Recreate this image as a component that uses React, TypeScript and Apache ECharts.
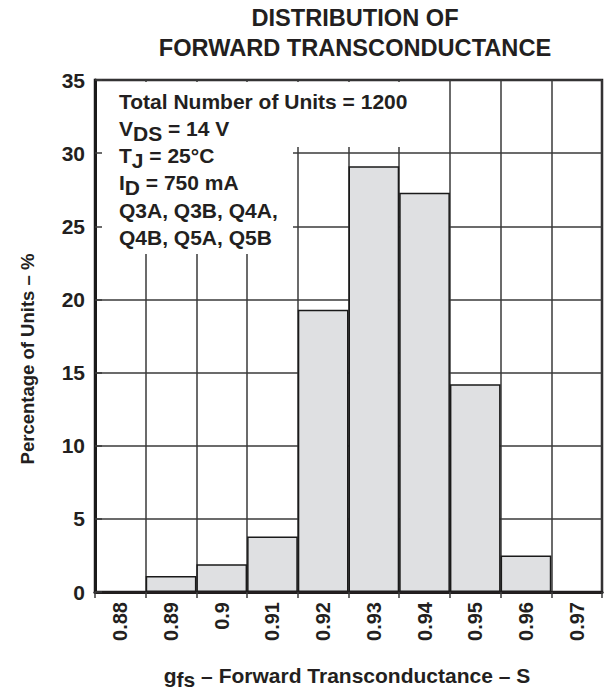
import React, { useEffect, useRef } from 'react';
import * as echarts from 'echarts';

const categories = ['0.88', '0.89', '0.9', '0.91', '0.92', '0.93', '0.94', '0.95', '0.96', '0.97'];
const percentages = [0, 1.1, 1.9, 3.8, 19.3, 29.1, 27.3, 14.2, 2.5, 0];
const yMin = 0;
const yMax = 35;
const yInterval = 5;
const titleLines = ['DISTRIBUTION OF', 'FORWARD TRANSCONDUCTANCE'];
const infoLines = [
  '{m|Total Number of Units = 1200}',
  '{m|V}{s|DS}{m| = 14 V}',
  '{m|T}{s|J}{m| = 25°C}',
  '{m|I}{s|D}{m| = 750 mA}',
  '{m|Q3A, Q3B, Q4A,}',
  '{m|Q4B, Q5A, Q5B}',
];
const yAxisName = 'Percentage of Units – %';
const xAxisName = '{m|g}{s|fs}{m| – Forward Transconductance – S}';

const FONT = '"Liberation Sans", Arial, Helvetica, sans-serif';
const INK = '#231f20';

export default function App() {
  const ref = useRef<HTMLDivElement>(null);
  useEffect(() => {
    if (!ref.current) return;
    const chart = echarts.init(ref.current, null, { renderer: 'svg' });

    const infoGraphics = infoLines.map((t, i) => ({
      type: 'text',
      z: 20,
      style: {
        text: t,
        x: 119,
        y: 108.3 + 27.3 * i - 4.8,
        align: 'left',
        verticalAlign: 'middle',
        fontFamily: FONT,
        fontSize: 21,
        fontWeight: 'bold',
        fill: INK,
        rich: {
          m: { fontFamily: FONT, fontSize: 21, fontWeight: 'bold', fill: INK, padding: [0, 0, 5, 0] },
          s: { fontFamily: FONT, fontSize: 21, fontWeight: 'bold', fill: INK, padding: [5, 0, 0, 0] },
        },
      },
    }));

    const option: any = {
      animation: false,
      backgroundColor: '#ffffff',
      grid: {
        left: 95,
        right: 2,
        top: 80,
        bottom: 97,
        show: true,
        borderColor: '#231f20',
        borderWidth: 2.5,
        backgroundColor: 'transparent',
      },
      xAxis: [
        {
          type: 'category',
          data: categories,
          position: 'bottom',
          boundaryGap: true,
          z: 1,
          axisLine: { show: true, lineStyle: { color: '#1a1a1a', width: 3 } },
          axisTick: { show: false },
          splitLine: { show: true, interval: 0, lineStyle: { color: '#3a3a3a', width: 1.5 } },
          axisLabel: {
            rotate: 90,
            margin: 10,
            interval: 0,
            padding: [7, 0, 0, 0],
            fontFamily: FONT,
            fontSize: 20,
            fontWeight: 'bold',
            color: INK,
          },
        },
        {
          type: 'category',
          data: categories,
          position: 'top',
          boundaryGap: true,
          z: 15,
          axisLine: { show: true, lineStyle: { color: '#231f20', width: 2.5 } },
          axisTick: { show: true, inside: true, length: 6, interval: 0, lineStyle: { color: '#3a3a3a', width: 1.5 } },
          axisLabel: { show: false },
          splitLine: { show: false },
        },
      ],
      yAxis: [
        {
          type: 'value',
          min: yMin,
          max: yMax,
          interval: yInterval,
          z: 1,
          axisLine: { show: true, lineStyle: { color: '#1a1a1a', width: 3 } },
          axisTick: { show: false },
          splitLine: { show: true, lineStyle: { color: '#3a3a3a', width: 1.5 } },
          axisLabel: {
            margin: 10,
            fontFamily: FONT,
            fontSize: 21,
            fontWeight: 'bold',
            color: INK,
          },
        },
        {
          type: 'value',
          min: yMin,
          max: yMax,
          interval: yInterval,
          position: 'left',
          z: 15,
          axisLine: { show: false },
          axisTick: { show: true, inside: true, length: 7, lineStyle: { color: '#3a3a3a', width: 1.5 } },
          axisLabel: { show: false },
          splitLine: { show: false },
        },
      ],
      series: [
        {
          type: 'bar',
          data: percentages,
          xAxisIndex: 0,
          yAxisIndex: 0,
          barWidth: '100%',
          barCategoryGap: '0%',
          z: 2,
          itemStyle: { color: '#dfe0e2', borderColor: '#1a1a1a', borderWidth: 1.5 },
        },
      ],
      graphic: [
        {
          type: 'rect',
          z: 10,
          shape: { x: 97, y: 82, width: 326, height: 65 },
          style: { fill: '#ffffff' },
        },
        {
          type: 'rect',
          z: 10,
          shape: { x: 97, y: 82, width: 196, height: 172 },
          style: { fill: '#ffffff' },
        },
        {
          type: 'text',
          z: 20,
          style: {
            text: titleLines.join('\n'),
            x: 355,
            y: 3,
            align: 'center',
            verticalAlign: 'top',
            lineHeight: 30,
            fontFamily: FONT,
            fontSize: 23.6,
            fontWeight: 'bold',
            fill: INK,
          },
        },
        ...infoGraphics,
        {
          type: 'text',
          z: 20,
          x: 27,
          y: 359,
          rotation: Math.PI / 2,
          style: {
            text: yAxisName,
            x: 0,
            y: 0,
            align: 'center',
            verticalAlign: 'middle',
            fontFamily: FONT,
            fontSize: 18.5,
            fontWeight: 'bold',
            fill: INK,
          },
        },
        {
          type: 'text',
          z: 20,
          style: {
            text: xAxisName,
            x: 347,
            y: 677,
            align: 'center',
            verticalAlign: 'middle',
            fontFamily: FONT,
            fontSize: 21,
            fontWeight: 'bold',
            fill: INK,
            rich: {
              m: { fontFamily: FONT, fontSize: 21, fontWeight: 'bold', fill: INK, padding: [0, 0, 4, 0] },
              s: { fontFamily: FONT, fontSize: 21, fontWeight: 'bold', fill: INK, padding: [4, 0, 0, 0] },
            },
          },
        },
      ],
    };
    chart.setOption(option);
    return () => chart.dispose();
  }, []);
  return (
    <div
      ref={ref}
      style={{ position: 'absolute', left: 0, top: 0, width: 604, height: 689 }}
    />
  );
}
